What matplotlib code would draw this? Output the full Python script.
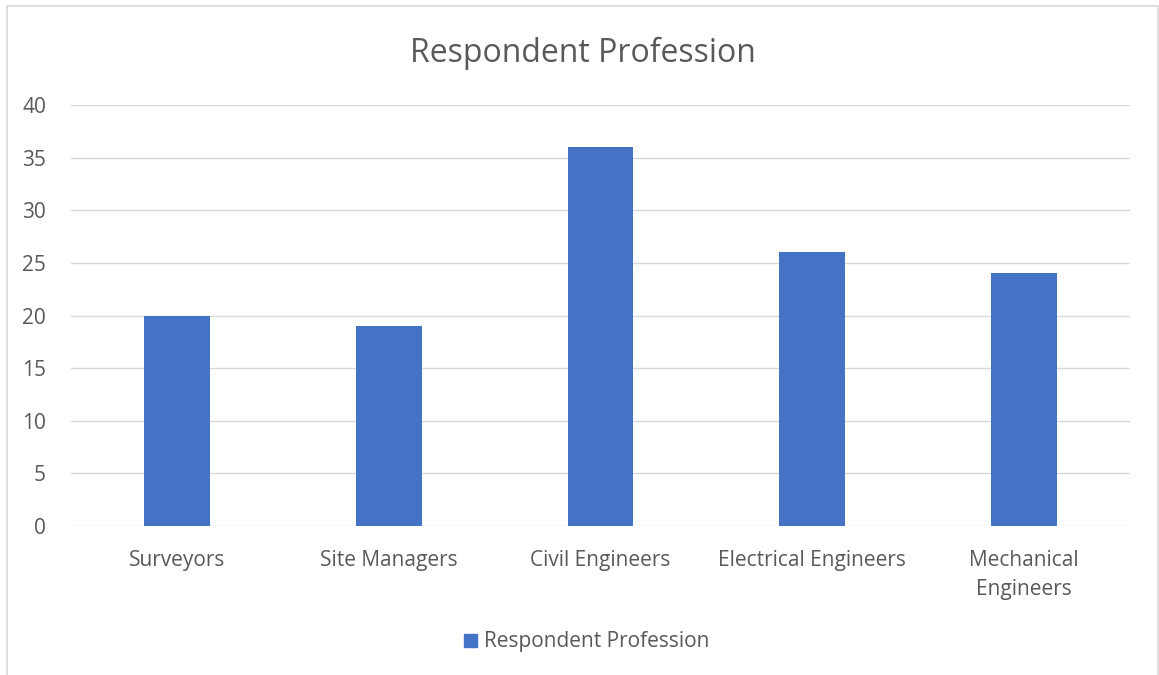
import matplotlib.pyplot as plt
from matplotlib.patches import Rectangle, Patch

categories = ["Surveyors", "Site Managers", "Civil Engineers",
              "Electrical Engineers", "Mechanical\nEngineers"]
counts = [20, 19, 36, 26, 24]
y_ticks = [0, 5, 10, 15, 20, 25, 30, 35, 40]
series_name = "Respondent Profession"

BAR = "#4472C4"
TXT = "#595959"
GRID = "#D9D9D9"

plt.rcParams["font.family"] = ["Open Sans", "DejaVu Sans"]

W, H = 1159, 675
fig = plt.figure(figsize=(W / 100, H / 100), dpi=100)
ax = fig.add_axes([71 / W, 1 - 526 / H, (1130 - 71) / W, (526 - 105) / H])

x = range(len(categories))
ax.bar(x, counts, width=0.31, color=BAR, zorder=3)

ax.set_xlim(-0.5, len(categories) - 0.5)
ax.set_ylim(0, 40)
ax.set_yticks(y_ticks)
ax.set_xticks(list(x))
ax.set_xticklabels(categories, fontsize=15, color=TXT, linespacing=1.55)
ax.tick_params(axis="y", labelsize=15, labelcolor=TXT, length=0, pad=18)
ax.tick_params(axis="x", length=0, pad=17)
ax.grid(axis="y", color=GRID, linewidth=1, zorder=0)
for s in ax.spines.values():
    s.set_visible(False)

fig.text(583 / W, 1 - 53 / H, "Respondent Profession", ha="center", va="center",
         fontsize=23, color=TXT)

leg = fig.legend(handles=[Patch(color=BAR, label=series_name)],
                 loc="center", bbox_to_anchor=(587 / W, 1 - 642 / H),
                 frameon=False, fontsize=15, handlelength=0.6, handleheight=0.6,
                 handletextpad=0.35, labelcolor=TXT)

fig.patches.append(Rectangle((7 / W, -0.01), (1158 - 7) / W, 1.01 - 6 / H,
                             transform=fig.transFigure, fill=False,
                             edgecolor=GRID, linewidth=1.2))

fig.savefig("out.png", dpi=100)
